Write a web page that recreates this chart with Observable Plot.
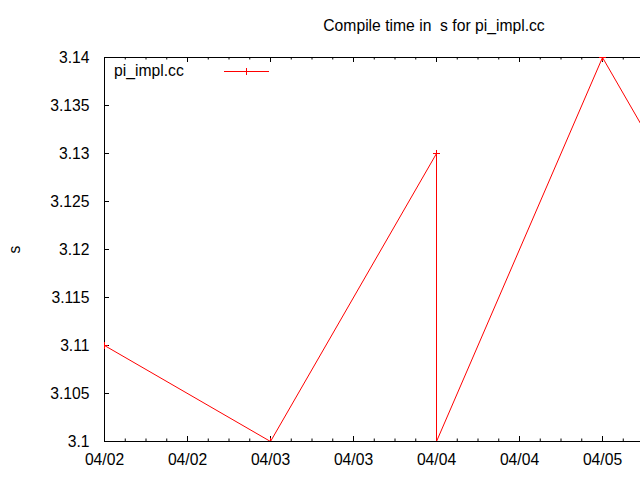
<!DOCTYPE html>
<html><head><meta charset="utf-8">
<script src="https://cdn.jsdelivr.net/npm/d3@7"></script>
<script src="https://cdn.jsdelivr.net/npm/@observablehq/plot@0.6"></script>
<style>
html,body{margin:0;padding:0;background:#fff;overflow:hidden;}
#wrap{position:relative;width:640px;height:480px;overflow:hidden;}
#title{position:absolute;left:100px;width:668px;top:17px;text-align:center;white-space:pre;font:15.7px "Liberation Sans",Arial,sans-serif;color:#000;}
#legend{position:absolute;left:114px;top:61px;height:20px;font:15.7px "Liberation Sans",Arial,sans-serif;color:#000;display:flex;align-items:center;}
#lname{display:inline-block;width:70px;}
#legend svg{margin-left:40px;}
</style></head><body><div id="wrap"><div id="title"></div><div id="legend"><span id="lname"></span><svg width="46" height="10"><line x1="0" x2="45" y1="5.5" y2="5.5" stroke="red"/><line x1="22.5" x2="22.5" y1="2" y2="9" stroke="red"/></svg></div></div>
<script>
// data
const times = ["2023-04-02T00:00Z","2023-04-03T00:00Z","2023-04-04T00:00Z","2023-04-04T00:00Z","2023-04-05T00:00Z","2023-04-06T00:00Z"];
const seconds = [3.11, 3.10, 3.13, 3.10, 3.14, 3.11];
const yTicks = [3.1, 3.105, 3.11, 3.115, 3.12, 3.125, 3.13, 3.135, 3.14];
const xTickLabels = ["04/02","04/02","04/03","04/03","04/04","04/04","04/05"];
const xDomain = ["2023-04-02T00:00Z", "2023-04-06T00:00Z"];
const seriesName = "pi_impl.cc";
const titleText = "Compile time in  s for pi_impl.cc";
const yLabel = "s";

document.getElementById("title").textContent = titleText;
document.getElementById("lname").textContent = seriesName;

const data = times.map((t, i) => ({date: new Date(t), value: seconds[i]}));
const x0 = new Date(xDomain[0]), x1 = new Date(xDomain[1]);
// visible tick positions (12h majors, 3h minors)
const majorTicks = xTickLabels.map((_, i) => d3.utcHour.offset(x0, 12 * i));
const minorTicks = d3.range(0, 4 * (xTickLabels.length - 1) + 2).map(i => d3.utcHour.offset(x0, 3 * i)).filter(d => d3.utcHour.count(x0, d) % 12 !== 0);
const labelOf = new Map(majorTicks.map((d, i) => [+d, xTickLabels[i]]));

const H = 480, W = 640, mL = 104, mR = 0, mT = 57, mB = 39;
const fh = H - mT - mB, fw = W - mL - mR;

const chart = Plot.plot({
  width: W, height: H,
  marginLeft: mL, marginRight: mR, marginTop: mT, marginBottom: mB,
  style: {fontFamily: '"Liberation Sans", Arial, sans-serif', fontSize: "15.7px", color: "#000", background: "transparent", overflow: "hidden"},
  x: {type: "utc", domain: [x0, x1], range: [mL, 768]},
  y: {domain: [3.1, 3.14]},
  marks: [
    Plot.ruleY([3.1, 3.14], {stroke: "#000"}),
    Plot.ruleX([x0], {stroke: "#000"}),
    // inward ticks: bottom & top, major & minor
    Plot.tickX(majorTicks, {x: d => d, insetTop: fh - 5, stroke: "#000"}),
    Plot.tickX(minorTicks, {x: d => d, insetTop: fh - 2.5, stroke: "#000"}),
    Plot.tickX(majorTicks, {x: d => d, insetBottom: fh - 5, stroke: "#000"}),
    Plot.tickX(minorTicks, {x: d => d, insetBottom: fh - 2.5, stroke: "#000"}),
    Plot.tickY(yTicks, {y: d => d, insetRight: fw - 5, stroke: "#000"}),
    Plot.axisX({anchor: "bottom", ticks: majorTicks, tickSize: 0, tickPadding: 12, tickFormat: d => labelOf.get(+d), label: null}),
    Plot.axisY({anchor: "left", ticks: yTicks, tickSize: 0, tickPadding: 15, tickFormat: d3.format("~g"), label: yLabel, labelAnchor: "center", labelArrow: "none", labelOffset: 96}),
    Plot.line(data, {x: "date", y: "value", stroke: "red", strokeWidth: 1, clip: true}),
    Plot.dot(data, {x: "date", y: "value", symbol: "plus", r: 2.4, stroke: "red", strokeWidth: 1, clip: true})
  ]
});
document.getElementById("wrap").prepend(chart);
</script>
</body></html>
